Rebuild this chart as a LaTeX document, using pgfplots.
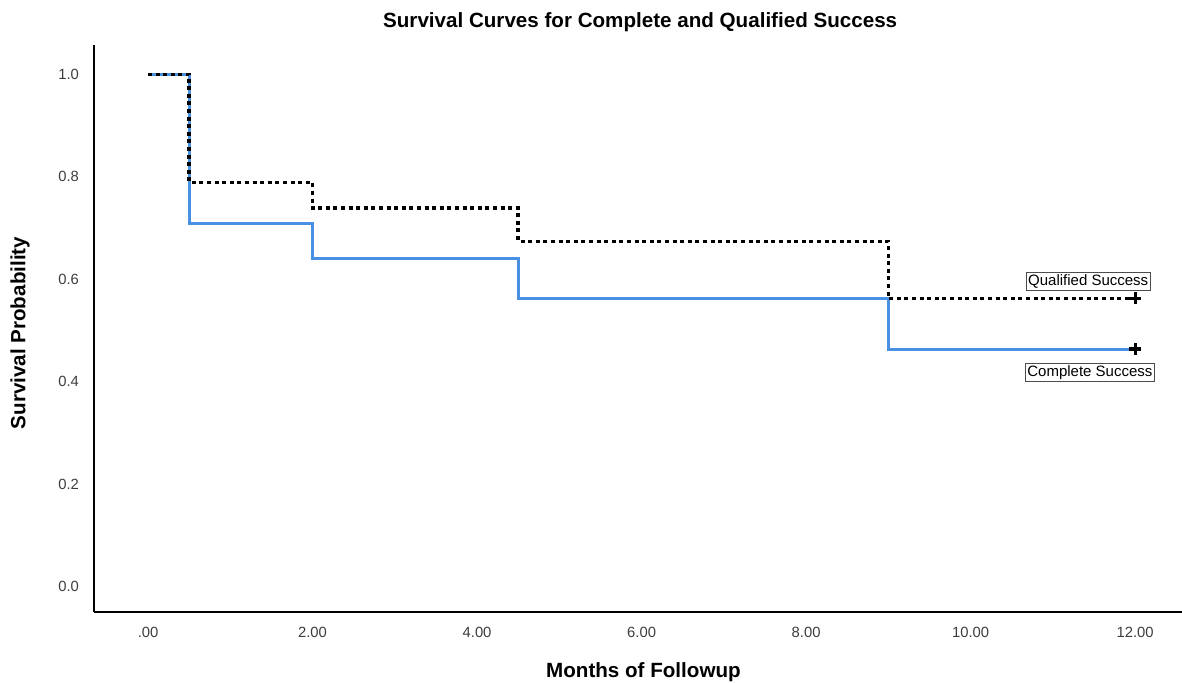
\documentclass[border=0pt]{standalone}
\usepackage{fontspec}
\setmainfont{Liberation Sans}
\usepackage{pgfplots}
\pgfplotsset{compat=1.18}
\definecolor{kmblue}{RGB}{74,144,226}
\definecolor{ticktxt}{RGB}{60,60,60}
\begin{document}
\begin{tikzpicture}
\useasboundingbox (0,0) rectangle (591pt,341pt);
\begin{axis}[
  at={(47pt,35pt)}, anchor=south west,
  scale only axis, width=544pt, height=283.5pt,
  xmin=-0.657, xmax=12.57, ymin=-0.049, ymax=1.057,
  axis x line*=bottom, axis y line*=left,
  axis line style={line width=1.2pt, black, -},
  major tick length=0pt,
  xtick={0,2,4,6,8,10,12},
  xticklabels={.00,2.00,4.00,6.00,8.00,10.00,12.00},
  ytick={0,0.2,0.4,0.6,0.8,1.0},
  yticklabel={\pgfmathprintnumber[fixed,precision=1,zerofill]{\tick}},
  /pgf/number format/assume math mode=true,
  tick label style={font=\fontsize{7.4}{8}\selectfont, text=ticktxt},
  xticklabel style={anchor=center, yshift=-10pt},
  yticklabel style={anchor=east, xshift=-4pt},
  xlabel={Months of Followup},
  xlabel style={font=\fontsize{10.3}{12}\bfseries, at={(axis description cs:0.505,-0.106)}, anchor=center},
  ylabel={Survival Probability},
  ylabel style={font=\fontsize{10.3}{12}\bfseries, at={(axis description cs:-0.068,0.492)}, anchor=center},
  clip=false,
]
\addplot[kmblue, line width=1.5pt, line join=miter] coordinates {
  (0,1) (0.5,1) (0.5,0.708) (2,0.708) (2,0.641) (4.5,0.641) (4.5,0.563) (9,0.563) (9,0.464) (12,0.464)
};
\addplot[black, line width=1.7pt, dash pattern=on 2pt off 1.8pt] coordinates {
  (0,1) (0.5,1) (0.5,0.789) (2,0.789) (2,0.739) (4.5,0.739) (4.5,0.674) (9,0.674) (9,0.563) (12,0.563)
};
\addplot[only marks, mark=+, mark size=3pt, mark options={line width=1.6pt, black}] coordinates {
  (12,0.563) (12,0.464)
};
\node[font=\fontsize{10.3}{12}\bfseries, anchor=center] at (axis description cs:0.502,1.0406) {Survival Curves for Complete and Qualified Success};
\node[draw=black!70, line width=0.5pt, inner sep=1pt, font=\fontsize{7.5}{8.5}\selectfont, fill=white] at (axis cs:11.43,0.596) {Qualified Success};
\node[draw=black!70, line width=0.5pt, inner sep=1pt, font=\fontsize{7.5}{8.5}\selectfont, fill=white] at (axis cs:11.45,0.418) {Complete Success};
\end{axis}
\end{tikzpicture}
\end{document}
